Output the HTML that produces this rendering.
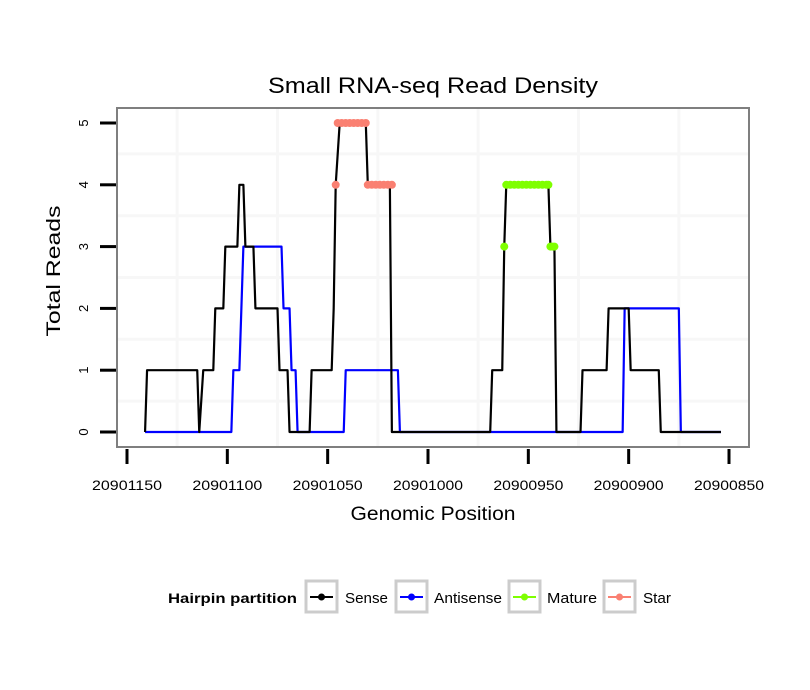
<!DOCTYPE html>
<html><head><meta charset="utf-8"><style>
body{margin:0;background:#fff;}
svg{display:block;font-family:"Liberation Sans",sans-serif;}
</style></head><body>
<svg id="chart" width="810" height="690">
<rect width="810" height="690" fill="#fff"/>
<text x="433" y="93" text-anchor="middle" font-size="22" textLength="330" lengthAdjust="spacingAndGlyphs">Small RNA-seq Read Density</text>
<g id="grid"></g>
<g id="series"></g>
<rect x="117" y="108" width="632" height="339" fill="none" stroke="#7f7f7f" stroke-width="2"/>
<g id="axes"></g>
<text x="433" y="520" text-anchor="middle" font-size="19" textLength="165" lengthAdjust="spacingAndGlyphs">Genomic Position</text>
<text transform="translate(60,271) rotate(-90)" text-anchor="middle" font-size="19" textLength="131" lengthAdjust="spacingAndGlyphs">Total Reads</text>
<g>
<text x="168" y="603" font-size="14" font-weight="bold" textLength="129" lengthAdjust="spacingAndGlyphs">Hairpin partition</text>
<g><rect x="306" y="581" width="31" height="31" fill="#fff" stroke="#ccc" stroke-width="3"/><line x1="310" y1="597" x2="333" y2="597" stroke="#000" stroke-width="2"/><circle cx="321.5" cy="597" r="3.5" fill="#000"/><text x="345" y="603" font-size="15" textLength="43" lengthAdjust="spacingAndGlyphs">Sense</text></g>
<g><rect x="396" y="581" width="31" height="31" fill="#fff" stroke="#ccc" stroke-width="3"/><line x1="400" y1="597" x2="423" y2="597" stroke="#0000ff" stroke-width="2"/><circle cx="411.5" cy="597" r="3.5" fill="#0000ff"/><text x="434" y="603" font-size="15" textLength="68" lengthAdjust="spacingAndGlyphs">Antisense</text></g>
<g><rect x="509" y="581" width="31" height="31" fill="#fff" stroke="#ccc" stroke-width="3"/><line x1="513" y1="597" x2="536" y2="597" stroke="#7fff00" stroke-width="2"/><circle cx="524.5" cy="597" r="3.5" fill="#7fff00"/><text x="547" y="603" font-size="15" textLength="50" lengthAdjust="spacingAndGlyphs">Mature</text></g>
<g><rect x="604" y="581" width="31" height="31" fill="#fff" stroke="#ccc" stroke-width="3"/><line x1="608" y1="597" x2="631" y2="597" stroke="#fa8072" stroke-width="2"/><circle cx="619.5" cy="597" r="3.5" fill="#fa8072"/><text x="643" y="603" font-size="15" textLength="28" lengthAdjust="spacingAndGlyphs">Star</text></g>
</g>
</svg>
<script>
const xTicks=[20901150,20901100,20901050,20901000,20900950,20900900,20900850];
const yTicks=[0,1,2,3,4,5];
const senseX=[20901141,20901140,20901115,20901114,20901112,20901107,20901106,20901102,20901101,20901095,20901094,20901092,20901091,20901087,20901086,20901075,20901074,20901070,20901069,20901059,20901058,20901048,20901047,20901046,20901044,20901031,20901030,20901019,20901018,20900969,20900968,20900963,20900962,20900961,20900940,20900939,20900937,20900936,20900924,20900923,20900911,20900910,20900900,20900899,20900885,20900884,20900854];
const senseY=[0,1,1,0,1,1,2,2,3,3,4,4,3,3,2,2,1,1,0,0,1,1,2,4,5,5,4,4,0,0,1,1,3,4,4,3,3,0,0,1,1,2,2,1,1,0,0];
const antiX=[20901141,20901098,20901097,20901094,20901092,20901073,20901072,20901069,20901068,20901066,20901065,20901042,20901041,20901015,20901014,20900903,20900902,20900875,20900874,20900854];
const antiY=[0,0,1,1,3,3,2,2,1,1,0,0,1,1,0,0,2,2,0,0];
const starX=[20901046,20901045,20901043,20901041,20901039,20901037,20901035,20901033,20901031,20901030,20901028,20901026,20901024,20901022,20901020,20901018];
const starY=[4,5,5,5,5,5,5,5,5,4,4,4,4,4,4,4];
const matureX=[20900962,20900961,20900959,20900957,20900955,20900953,20900951,20900949,20900947,20900945,20900943,20900941,20900940,20900939,20900938,20900937];
const matureY=[3,4,4,4,4,4,4,4,4,4,4,4,4,3,3,3];

const NS="http://www.w3.org/2000/svg";
const X0=127,X1=729,XA=20901150,XB=20900850;
const xs=v=>X0+(XA-v)*(X1-X0)/(XA-XB);
const ys=v=>432-v*61.8;
function mk(t,a,p){const e=document.createElementNS(NS,t);for(const k in a)e.setAttribute(k,a[k]);p.appendChild(e);return e;}
const grid=document.getElementById('grid'),axes=document.getElementById('axes'),ser=document.getElementById('series');
for(let i=0;i<xTicks.length-1;i++){const m=(xTicks[i]+xTicks[i+1])/2;
 const g=mk('line',{x1:xs(m),x2:xs(m),y1:109,y2:446,stroke:'#f7f7f7','stroke-width':3},grid);
 
 }
for(let i=0;i<yTicks.length-1;i++){const m=(yTicks[i]+yTicks[i+1])/2;
 const g=mk('line',{x1:118,x2:748,y1:ys(m),y2:ys(m),stroke:'#f7f7f7','stroke-width':3},grid);
 
 }
xTicks.forEach(v=>{
 const t=mk('line',{x1:xs(v),x2:xs(v),y1:449,y2:464,stroke:'#000','stroke-width':3},axes);
 
 
 const l=mk('text',{x:xs(v),y:490,'text-anchor':'middle','font-size':14,textLength:70,lengthAdjust:'spacingAndGlyphs'},axes);l.textContent=v;
 
 });
yTicks.forEach(v=>{
 const t=mk('line',{x1:100,x2:116,y1:ys(v),y2:ys(v),stroke:'#000','stroke-width':3},axes);
 
 
 const l=mk('text',{transform:`translate(88,${ys(v)}) rotate(-90)`,'text-anchor':'middle','font-size':13},axes);l.textContent=v;
 
 });
function line(X,Y,c,n){const p=mk('polyline',{points:X.map((x,i)=>xs(x)+','+ys(Y[i])).join(' '),fill:'none',stroke:c,'stroke-width':2.2,'stroke-linejoin':'round'},ser);
 
 }
function pts(X,Y,c,n){X.forEach((x,i)=>{const e=mk('circle',{cx:xs(x),cy:ys(Y[i]),r:4,fill:c},ser);
 
 });}
line(antiX,antiY,'#0000ff','antisense-line');
line(senseX,senseY,'#000000','sense-line');
pts(starX,starY,'#fa8072','star-point');
pts(matureX,matureY,'#7fff00','mature-point');
</script>
</body></html>
